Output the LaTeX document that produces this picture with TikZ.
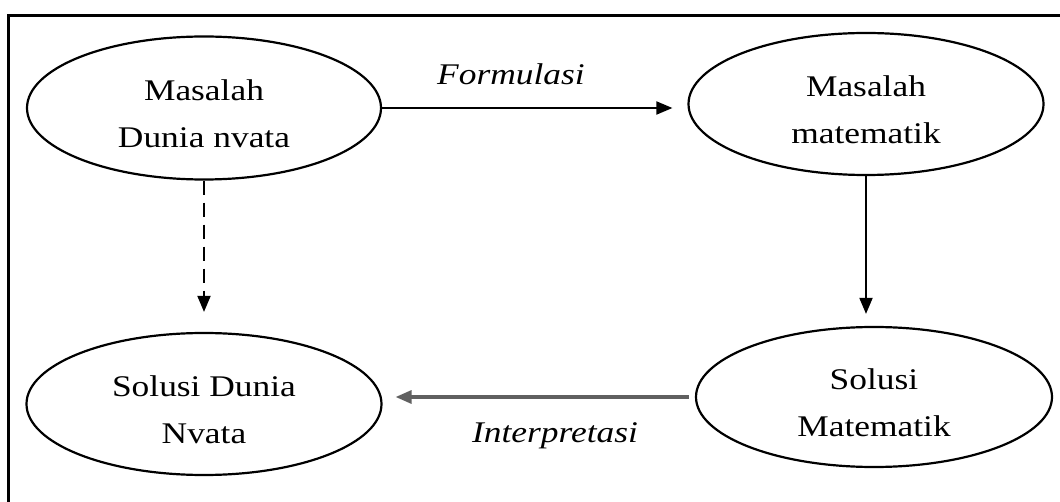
\documentclass[tikz,border=0pt]{standalone}
\usepackage{fontspec}
\setmainfont{Liberation Serif}[FakeStretch=1.18]
\usetikzlibrary{shapes.geometric,arrows.meta}
\begin{document}
\begin{tikzpicture}[x=1pt,y=-1pt,
  bubble/.style={ellipse,draw,line width=2.2pt,inner sep=0pt,align=center,
    font=\fontsize{30}{47}\selectfont},
  conn/.style={line width=1.9pt,-{Triangle[length=16pt,width=13pt]}},
  lbl/.style={font=\fontsize{30}{36}\selectfont\itshape}]
\useasboundingbox (0,0) rectangle (1060,502);
\draw[line width=3pt] (8,502) -- (8,16) -- (1060,16);
\node[bubble,minimum width=354pt,minimum height=143pt] (A) at (204,108) {\strut Masalah\\Dunia nvata};
\node[bubble,minimum width=355pt,minimum height=142pt] (B) at (866,104) {\strut Masalah\\matematik};
\node[bubble,minimum width=355pt,minimum height=142pt] (C) at (204,404) {\strut Solusi Dunia\\Nvata};
\node[bubble,minimum width=356pt,minimum height=140pt] (D) at (874,397) {\strut Solusi\\Matematik};
\draw[conn,shorten >=15pt] (A.east) -- (A.east -| B.west);
\node[lbl] (f) at (511,74) {Formulasi};
\draw[conn,dash pattern=on 14pt off 8pt,shorten >=20pt] (A.south) -- (A.south |- C.north);
\draw[conn,shorten >=12pt] (B.south) -- (B.south |- D.north);
\draw[conn,draw=gray!75!black,line width=3.2pt,shorten >=13pt,shorten <=6pt] (D.west) -- (D.west -| C.east);
\node[lbl] (i) at (555,436) {Interpretasi};
\end{tikzpicture}
\end{document}
